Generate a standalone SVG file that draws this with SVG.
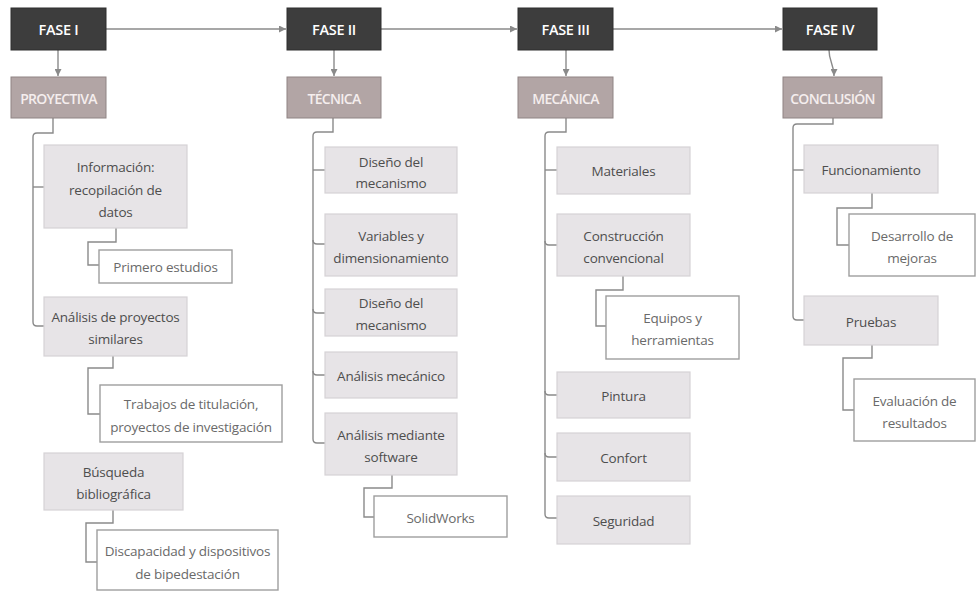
<svg xmlns="http://www.w3.org/2000/svg" width="976" height="592" viewBox="0 0 976 592">
  <defs>
    <marker id="arrow" viewBox="0 0 8 8" refX="8" refY="4" markerWidth="7" markerHeight="7" markerUnits="userSpaceOnUse" orient="auto">
      <path d="M0,0 L8,4 L0,8 z" fill="#8a8a8a"/>
    </marker>
    <style>
      text { font-family: "Open Sans", "Liberation Sans", sans-serif; text-anchor: middle; dominant-baseline: central; }
      .phase rect { fill: #3d3d3d; stroke: #2e2e2e; stroke-width: 1; }
      .phase text { fill: #ffffff; font-size: 14.5px; font-weight: 600; letter-spacing: -0.3px; }
      .cat rect { fill: #b2a5a5; stroke: #8f8484; stroke-width: 1; }
      .cat text { fill: #f5eeee; font-size: 14px; font-weight: 600; letter-spacing: -0.7px; }
      .item rect { fill: #e7e4e7; stroke: #d6d2d6; stroke-width: 1.2; }
      .item text { fill: #4e4e4e; font-size: 13.5px; letter-spacing: -0.2px; }
      .leaf rect { fill: #ffffff; stroke: #9e9e9e; stroke-width: 1.4; }
      .leaf text { fill: #6a6a6a; font-size: 13.5px; letter-spacing: -0.2px; }
      #connectors path { fill: none; stroke: #8a8a8a; stroke-width: 1.4; }
    </style>
  </defs>
  <rect width="976" height="592" fill="#ffffff"/>

  <g id="connectors">
    <!-- phase sequence -->
    <path d="M106,29 H286" marker-end="url(#arrow)"/>
    <path d="M381,29 H517" marker-end="url(#arrow)"/>
    <path d="M613,29 H782" marker-end="url(#arrow)"/>
    <!-- phase to category -->
    <path d="M58,50 V76" marker-end="url(#arrow)"/>
    <path d="M334,50 V76" marker-end="url(#arrow)"/>
    <path d="M566,50 V76" marker-end="url(#arrow)"/>
    <path d="M829,50 C829,62 834,64 834,76" marker-end="url(#arrow)"/>

    <!-- FASE I brackets -->
    <path d="M53,118 V133 H37 Q33,133 33,137 V322 Q33,326 37,326 H44"/>
    <path d="M33,187 H44"/>
    <path d="M116,228 V242 H88 V265 H99"/>
    <path d="M113,356 V368 H88 V414 H100"/>
    <path d="M113,510 V523 H86 V562 H97"/>

    <!-- FASE II brackets -->
    <path d="M333,118 V132 H317 Q313,132 313,136 V439 Q313,443 317,443 H325"/>
    <path d="M313,170 H325"/>
    <path d="M313,240 Q313,244 317,244 H325"/>
    <path d="M313,309 Q313,313 317,313 H325"/>
    <path d="M313,371 Q313,375 317,375 H325"/>
    <path d="M392,475 V488 H364 V517 H374"/>

    <!-- FASE III brackets -->
    <path d="M566,118 V132 H549 Q545,132 545,136 V514 Q545,518 549,518 H557"/>
    <path d="M545,170 H557"/>
    <path d="M545,241 Q545,245 549,245 H557"/>
    <path d="M545,391 Q545,395 549,395 H557"/>
    <path d="M545,453 Q545,457 549,457 H557"/>
    <path d="M623,276 V290 H596 V326 H606"/>

    <!-- FASE IV brackets -->
    <path d="M833,118 V124 H797 Q793,124 793,128 V316 Q793,320 797,320 H804"/>
    <path d="M793,170 H804"/>
    <path d="M872,193 V208 H837 V245 H849"/>
    <path d="M872,345 V358 H843 V410 H854"/>
  </g>

  <!-- FASE I -->
  <g id="fase1" class="phase"><rect x="11" y="8" width="95" height="42"/><text x="58.5" y="29.5">FASE I</text></g>
  <g id="proyectiva" class="cat"><rect x="11" y="77" width="95" height="41"/><text x="58.5" y="98.5">PROYECTIVA</text></g>
  <g id="informacion" class="item"><rect x="44" y="145" width="143" height="83"/>
    <text x="115.5" y="167">Información:</text><text x="115.5" y="189.5">recopilación de</text><text x="115.5" y="212">datos</text></g>
  <g id="primero-estudios" class="leaf"><rect x="99" y="250" width="133" height="33"/><text x="165.5" y="267">Primero estudios</text></g>
  <g id="analisis-proyectos" class="item"><rect x="44" y="297" width="143" height="59"/>
    <text x="115.5" y="317">Análisis de proyectos</text><text x="115.5" y="339">similares</text></g>
  <g id="trabajos" class="leaf"><rect x="100" y="385" width="182" height="57"/>
    <text x="191" y="404">Trabajos de titulación,</text><text x="191" y="427">proyectos de investigación</text></g>
  <g id="busqueda" class="item"><rect x="44" y="453" width="139" height="57"/>
    <text x="113.5" y="472">Búsqueda</text><text x="113.5" y="494">bibliográfica</text></g>
  <g id="discapacidad" class="leaf"><rect x="97" y="530" width="181" height="60"/>
    <text x="187.5" y="551">Discapacidad y dispositivos</text><text x="187.5" y="574">de bipedestación</text></g>

  <!-- FASE II -->
  <g id="fase2" class="phase"><rect x="287" y="8" width="94" height="42"/><text x="334" y="29.5">FASE II</text></g>
  <g id="tecnica" class="cat"><rect x="287" y="77" width="94" height="41"/><text x="334" y="98.5">TÉCNICA</text></g>
  <g id="diseno1" class="item"><rect x="325" y="147" width="132" height="46"/>
    <text x="391" y="162">Diseño del</text><text x="391" y="183">mecanismo</text></g>
  <g id="variables" class="item"><rect x="325" y="214" width="132" height="62"/>
    <text x="391" y="236">Variables y</text><text x="391" y="258">dimensionamiento</text></g>
  <g id="diseno2" class="item"><rect x="325" y="289" width="132" height="47"/>
    <text x="391" y="303">Diseño del</text><text x="391" y="325">mecanismo</text></g>
  <g id="analisis-mecanico" class="item"><rect x="325" y="352" width="132" height="46"/><text x="391" y="376">Análisis mecánico</text></g>
  <g id="analisis-software" class="item"><rect x="325" y="413" width="132" height="62"/>
    <text x="391" y="435">Análisis mediante</text><text x="391" y="457">software</text></g>
  <g id="solidworks" class="leaf"><rect x="374" y="496" width="133" height="41"/><text x="440.5" y="518">SolidWorks</text></g>

  <!-- FASE III -->
  <g id="fase3" class="phase"><rect x="518" y="8" width="95" height="42"/><text x="565.5" y="29.5">FASE III</text></g>
  <g id="mecanica" class="cat"><rect x="518" y="77" width="95" height="41"/><text x="565.5" y="98.5">MECÁNICA</text></g>
  <g id="materiales" class="item"><rect x="557" y="147" width="133" height="47"/><text x="623.5" y="171">Materiales</text></g>
  <g id="construccion" class="item"><rect x="557" y="214" width="133" height="62"/>
    <text x="623.5" y="236">Construcción</text><text x="623.5" y="258">convencional</text></g>
  <g id="equipos" class="leaf"><rect x="606" y="296" width="133" height="63"/>
    <text x="672.5" y="318">Equipos y</text><text x="672.5" y="340">herramientas</text></g>
  <g id="pintura" class="item"><rect x="557" y="372" width="133" height="46"/><text x="623.5" y="396">Pintura</text></g>
  <g id="confort" class="item"><rect x="557" y="433" width="133" height="48"/><text x="623.5" y="458">Confort</text></g>
  <g id="seguridad" class="item"><rect x="557" y="496" width="133" height="48"/><text x="623.5" y="521">Seguridad</text></g>

  <!-- FASE IV -->
  <g id="fase4" class="phase"><rect x="783" y="8" width="94" height="42"/><text x="830" y="29.5">FASE IV</text></g>
  <g id="conclusion" class="cat"><rect x="783" y="77" width="99" height="41"/><text x="832.5" y="98.5">CONCLUSIÓN</text></g>
  <g id="funcionamiento" class="item"><rect x="804" y="145" width="134" height="48"/><text x="871" y="170">Funcionamiento</text></g>
  <g id="desarrollo" class="leaf"><rect x="849" y="214" width="126" height="62"/>
    <text x="912" y="236">Desarrollo de</text><text x="912" y="258">mejoras</text></g>
  <g id="pruebas" class="item"><rect x="804" y="296" width="134" height="49"/><text x="871" y="322">Pruebas</text></g>
  <g id="evaluacion" class="leaf"><rect x="854" y="379" width="121" height="62"/>
    <text x="914.5" y="401">Evaluación de</text><text x="914.5" y="423">resultados</text></g>
</svg>
